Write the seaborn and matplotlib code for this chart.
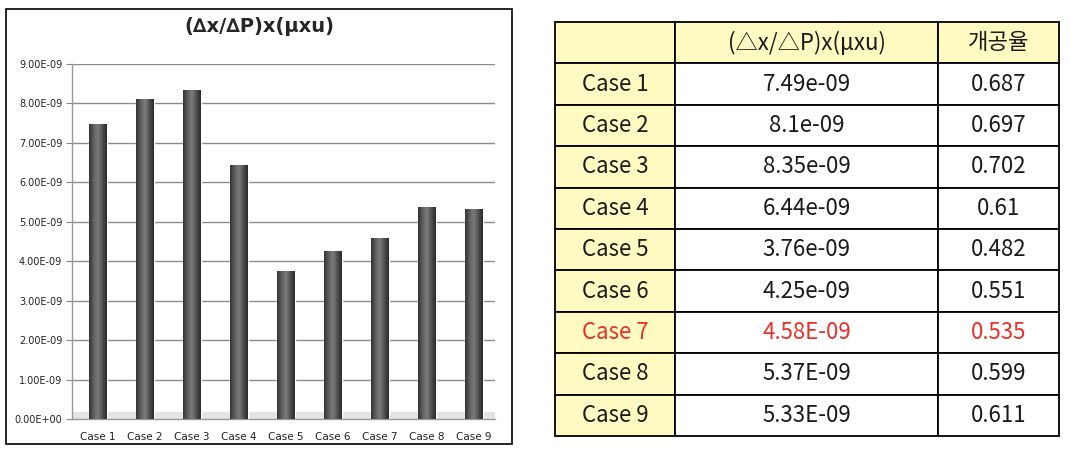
import numpy as np
import pandas as pd
import seaborn as sns
import matplotlib.pyplot as plt
from matplotlib.colors import LinearSegmentedColormap
from matplotlib.patches import Rectangle

# data
cases = ['Case 1', 'Case 2', 'Case 3', 'Case 4', 'Case 5', 'Case 6', 'Case 7', 'Case 8', 'Case 9']
ratio_values = [7.49e-09, 8.1e-09, 8.35e-09, 6.44e-09, 3.76e-09, 4.25e-09, 4.58e-09, 5.37e-09, 5.33e-09]
ratio_labels = ['7.49e-09', '8.1e-09', '8.35e-09', '6.44e-09', '3.76e-09', '4.25e-09',
                '4.58E-09', '5.37E-09', '5.33E-09']
open_rate = ['0.687', '0.697', '0.702', '0.61', '0.482', '0.551', '0.535', '0.599', '0.611']
highlight_case = 'Case 7'
y_ticks = [0, 1e-09, 2e-09, 3e-09, 4e-09, 5e-09, 6e-09, 7e-09, 8e-09, 9e-09]

chart_title = '(\u2206x/\u2206P)x(\u03bcxu)'
table_header = ['', '(\u25b3x/\u25b3P)x(\u03bcxu)', '개공율']

df = pd.DataFrame({'case': cases, 'value': ratio_values})

sns.set_style('white')
plt.rcParams['font.family'] = ['DejaVu Sans']

W, H = 1070, 454
fig = plt.figure(figsize=(W / 100, H / 100), dpi=100)

# chart frame
fig.patches.append(Rectangle((6 / W, 1 - 444 / H), 506 / W, 435 / H, transform=fig.transFigure,
                             fill=False, edgecolor='black', linewidth=1.2))

ax = fig.add_axes([72 / W, 1 - 419 / H, 423 / W, 355 / H])
sns.barplot(data=df, x='case', y='value', color='#4a4a4a', width=0.38, ax=ax, zorder=3)

# cylinder-ish shading on each bar
cyl = LinearSegmentedColormap.from_list('cyl', ['#333333', '#5e5e5e', '#7c7c7c', '#505050', '#2a2a2a'])
grad = np.linspace(0, 1, 64).reshape(1, -1)
for p in ax.patches:
    x0, w, h = p.get_x(), p.get_width(), p.get_height()
    im = ax.imshow(grad, cmap=cyl, aspect='auto', extent=[x0, x0 + w, 0, h], zorder=4)
    im.set_clip_path(p)

ax.set_xlim(-0.55, 8.45)
ax.set_ylim(0, 9e-09)
ax.set_yticks(y_ticks)
ax.set_yticklabels(['{:.2E}'.format(v) for v in y_ticks], fontsize=7, color='#222222')
ax.tick_params(axis='x', labelsize=7.5, colors='#222222', length=0, pad=9)
ax.tick_params(axis='y', length=4, color='#888888', pad=3, left=True)
ax.set_xlabel('')
ax.set_ylabel('')
ax.yaxis.grid(True, color='#8c8c8c', linewidth=1)
ax.set_axisbelow(True)
for s in ['top', 'right']:
    ax.spines[s].set_visible(False)
for s in ['left', 'bottom']:
    ax.spines[s].set_color('#999999')
    ax.spines[s].set_linewidth(1)
ax.axhspan(0, 0.18e-09, color='#e4e4e4', zorder=2)
fig.text(259 / W, 1 - 26 / H, chart_title, ha='center', va='center', fontsize=14, fontweight='bold')

# table on the right
tax = fig.add_axes([555 / W, 1 - 436 / H, 504 / W, 414 / H])
tax.axis('off')
cell_text = [table_header] + [[c, r, o] for c, r, o in zip(cases, ratio_labels, open_rate)]
tbl = tax.table(cellText=cell_text, bbox=[0, 0, 1, 1], cellLoc='center',
                colWidths=[120, 263, 121])
tbl.auto_set_font_size(False)
yellow = '#fffac2'
for (r, c), cell in tbl.get_celld().items():
    cell.set_edgecolor('black')
    cell.set_linewidth(1.3)
    txt = cell.get_text()
    txt.set_fontfamily(['Noto Sans CJK KR', 'DejaVu Sans'])
    txt.set_fontsize(16)
    txt.set_color('#1a1a1a')
    if r == 0 or c == 0:
        cell.set_facecolor(yellow)
    if r > 0 and cases[r - 1] == highlight_case:
        txt.set_color('#e8302a')

fig.savefig('out.png', dpi=100)
